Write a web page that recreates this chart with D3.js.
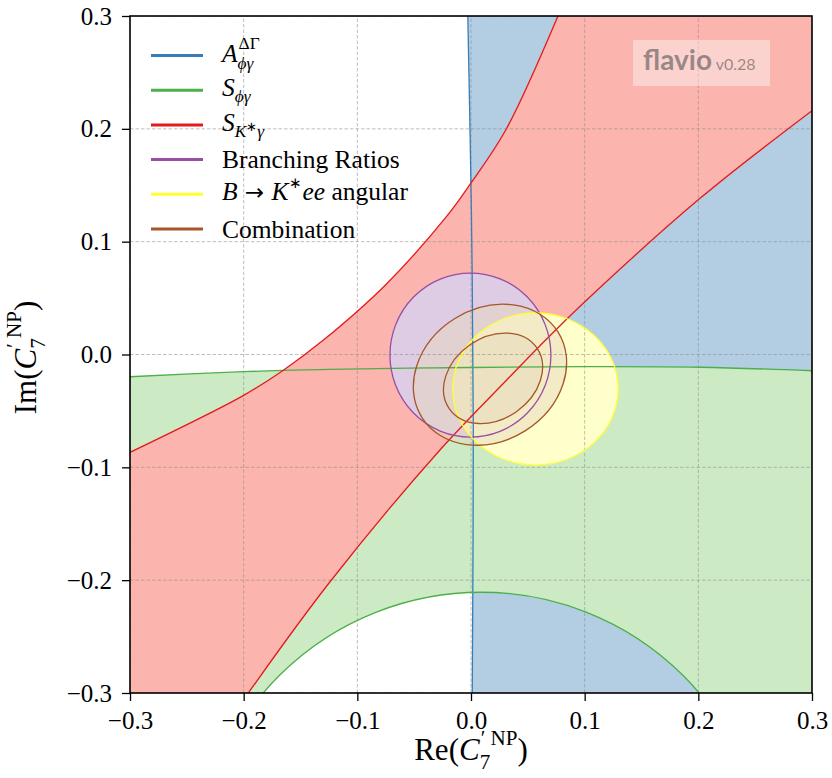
<!DOCTYPE html>
<html>
<head>
<meta charset="utf-8">
<script src="https://cdn.jsdelivr.net/npm/d3@7"></script>
<style>
body { margin: 0; background: #fff; }
svg { font-family: "Liberation Serif", serif; }
svg text { white-space: pre; }
.grid line { stroke: #8a8a8a; stroke-opacity: 0.55; stroke-width: 1; stroke-dasharray: 3.5,2; }
.axis text { font-size: 25px; font-family: "Liberation Serif", serif; fill: #000; }
.axis line { stroke: #000; stroke-width: 1.3; }
.frame { fill: none; stroke: #000; stroke-width: 1.6; }
.edge { fill: none; stroke-width: 1.3; }
</style>
</head>
<body>
<div id="chart"></div>
<script>
// ticks
const xTicks = [-0.3, -0.2, -0.1, 0.0, 0.1, 0.2, 0.3];
const yTicks = [-0.3, -0.2, -0.1, 0.0, 0.1, 0.2, 0.3];

// constraint boundaries, [Re, Im]
const blueEdge = [[-0.0028, 0.3], [0.0004, 0.1228], [0.0020, -0.0621], [0.0011, -0.3]];
const greenTop = [[-0.3, -0.0197], [-0.1997, -0.0152], [-0.124, -0.0131], [0.0, -0.0115],
                  [0.1003, -0.0108], [0.2015, -0.0113], [0.3, -0.0144]];
const greenHole = [0.009, -0.4613, 0.2506]; // cx, cy, r
const redUpper = [[-0.3, -0.0867], [-0.2, -0.0362], [-0.1657, -0.0144], [-0.1293, 0.0132],
                  [-0.0757, 0.0612], [-0.0211, 0.1228], [0.0, 0.152], [0.0308, 0.1994], [0.0765, 0.3]];
const redLower = [[-0.1959, -0.3], [-0.124, -0.2014], [-0.0273, -0.0846], [0.0314, -0.0226],
                  [0.0607, 0.0078], [0.1018, 0.0483], [0.2015, 0.1384], [0.3, 0.2161]];
// ellipses: cx, cy, a, b, angle (deg)
const brEllipse = [-0.0005, -0.0005, 0.0708, 0.0727, 0];
const bkeeEllipse = [0.0567, -0.0306, 0.0728, 0.0674, 0];
const combOuter = [0.0167, -0.0179, 0.0707, 0.0587, 32];
const combInner = [0.0194, -0.0211, 0.0469, 0.0361, 35];

const legendColors = ["#377eb8", "#4daf4a", "#e41a1c", "#984ea3", "#ffff33", "#a65628"];
const legendLabels = [
  [{t: "A", i: 1}, {sup: [{t: "ΔΓ"}], sub: [{t: "ϕγ", i: 1}]}],
  [{t: "S", i: 1}, {sub: [{t: "ϕγ", i: 1}]}],
  [{t: "S", i: 1}, {sub: [{t: "K", i: 1}, {t: "∗", up: 0.3, s: 0.75}, {t: "γ", i: 1}]}],
  [{t: "Branching Ratios"}],
  [{t: "B", i: 1}, {t: " → ", f: "DejaVu Sans", s: 0.9}, {t: "K", i: 1}, {sup: [{t: "∗", s: 0.85}]}, {t: "ee", i: 1}, {t: " angular"}],
  [{t: "Combination"}]
];

const W = 832, H = 778;
const svg = d3.select("#chart").append("svg").attr("width", W).attr("height", H);

const x = d3.scaleLinear().domain([-0.3, 0.3]).range([130, 812]);
const y = d3.scaleLinear().domain([-0.3, 0.3]).range([693, 16]);
const [x0, x1] = x.domain(), [y0, y1] = y.domain();

svg.append("clipPath").attr("id", "plotClip")
  .append("rect").attr("x", x(x0)).attr("y", y(y1))
  .attr("width", x(x1) - x(x0)).attr("height", y(y0) - y(y1));

const plot = svg.append("g").attr("clip-path", "url(#plotClip)");
const line = d3.line().x(d => x(d[0])).y(d => y(d[1])).curve(d3.curveCatmullRom);
const P = (a, b) => `L${x(a)},${y(b)}`;

function circlePath(c) {
  const cx = x(c[0]), cy = y(c[1]), rx = x(c[2]) - x(0), ry = y(0) - y(c[2]);
  return `M${cx + rx},${cy}A${rx},${ry} 0 1 0 ${cx - rx},${cy}A${rx},${ry} 0 1 0 ${cx + rx},${cy}Z`;
}
function ellipse(g, e) {
  return g.append("ellipse")
    .attr("transform", `translate(${x(e[0])},${y(e[1])}) rotate(${-e[4]})`)
    .attr("rx", x(e[2]) - x(0)).attr("ry", y(0) - y(e[3]));
}

// fills
plot.append("path").attr("fill", "#b3cde3")
  .attr("d", line(blueEdge) + P(x1, y0) + P(x1, y1) + "Z");
plot.append("path").attr("fill", "#ccebc5").attr("fill-rule", "evenodd")
  .attr("d", line(greenTop) + P(x1, -0.8) + P(x0, -0.8) + "Z" + circlePath(greenHole));
plot.append("path").attr("fill", "#fbb4ae")
  .attr("d", line(redUpper) + P(x1, y1) + line(redLower.slice().reverse()).replace(/^M/, "L") + P(x0, y0) + "Z");
ellipse(plot, brEllipse).attr("fill", "#decbe4");
ellipse(plot, bkeeEllipse).attr("fill", "#ffffcc");
ellipse(plot, combOuter).attr("fill", "#e5d8bd").attr("fill-opacity", 0.5);
ellipse(plot, combInner).attr("fill", "#e5d8bd").attr("fill-opacity", 0.5);

// grid
const grid = plot.append("g").attr("class", "grid");
grid.selectAll(".gx").data(xTicks).enter().append("line")
  .attr("x1", d => x(d)).attr("x2", d => x(d)).attr("y1", y(y0)).attr("y2", y(y1));
grid.selectAll(".gy").data(yTicks).enter().append("line")
  .attr("y1", d => y(d)).attr("y2", d => y(d)).attr("x1", x(x0)).attr("x2", x(x1));

// boundary lines
plot.append("path").attr("class", "edge").attr("stroke", legendColors[0]).attr("d", line(blueEdge));
plot.append("path").attr("class", "edge").attr("stroke", legendColors[1]).attr("d", line(greenTop));
plot.append("path").attr("class", "edge").attr("stroke", legendColors[1]).attr("d", circlePath(greenHole));
plot.append("path").attr("class", "edge").attr("stroke", legendColors[2]).attr("d", line(redUpper));
plot.append("path").attr("class", "edge").attr("stroke", legendColors[2]).attr("d", line(redLower));
ellipse(plot, brEllipse).attr("class", "edge").attr("stroke", legendColors[3]);
ellipse(plot, bkeeEllipse).attr("class", "edge").attr("stroke", legendColors[4]).attr("stroke-width", 1.6);
ellipse(plot, combOuter).attr("class", "edge").attr("stroke", legendColors[5]);
ellipse(plot, combInner).attr("class", "edge").attr("stroke", legendColors[5]);

// axes
const fmt = d3.format(".1f");
svg.append("g").attr("class", "axis").attr("transform", `translate(0,${y(y0)})`)
  .call(d3.axisBottom(x).tickValues(xTicks).tickFormat(fmt).tickSize(8).tickPadding(10))
  .call(g => g.select(".domain").remove());
svg.append("g").attr("class", "axis").attr("transform", `translate(${x(x0)},0)`)
  .call(d3.axisLeft(y).tickValues(yTicks).tickFormat(fmt).tickSize(8).tickPadding(10))
  .call(g => g.select(".domain").remove());
svg.selectAll(".axis text").attr("font-family", null).attr("font-size", null);

svg.append("rect").attr("class", "frame")
  .attr("x", x(x0)).attr("y", y(y1)).attr("width", x(x1) - x(x0)).attr("height", y(y0) - y(y1));

// math-ish text layout
function spansText(g, spans, px, py, fs) {
  const t = g.append("text").attr("x", px).attr("y", py).style("font-size", fs + "px");
  let prev = 0;
  spans.forEach(s => {
    const up = s.up || 0;
    t.append("tspan").attr("dy", (prev - up) * fs)
      .style("font-style", s.i ? "italic" : "normal")
      .style("font-size", s.s ? fs * s.s + "px" : null)
      .style("font-family", s.f || null)
      .text(s.t);
    prev = up;
  });
  return t.node().getComputedTextLength();
}
function drawMath(g, items, fs) {
  let cx = 0;
  items.forEach(it => {
    if (it.sup || it.sub) {
      let w = 0;
      if (it.sup) w = Math.max(w, spansText(g, it.sup, cx + 1, -0.5 * fs, fs * 0.68));
      if (it.sub) w = Math.max(w, spansText(g, it.sub, cx, (it.sup ? 0.3 : 0.22) * fs, fs * 0.68));
      cx += w + 1;
    } else {
      cx += spansText(g, [it], cx, 0, fs);
    }
  });
  return cx;
}

// legend
const legend = svg.append("g");
legendLabels.forEach((lab, i) => {
  const ly = 55.5 + i * 34.7;
  legend.append("line").attr("x1", 151).attr("x2", 203).attr("y1", ly).attr("y2", ly)
    .attr("stroke", legendColors[i]).attr("stroke-width", 3);
  const isMath = lab.length > 1;
  drawMath(legend.append("g").attr("transform", `translate(222,${ly + (isMath ? 6 : 8.5)})`), lab, 25.5);
});

// axis labels
const xl = svg.append("g");
const xw = drawMath(xl, [{t: "Re("}, {t: "C", i: 1}, {sup: [{t: "′ NP"}], sub: [{t: "7"}]}, {t: ")"}], 31);
xl.attr("transform", `translate(${(x(x0) + x(x1)) / 2 - xw / 2},760)`);
const yl = svg.append("g").attr("transform", `translate(36,${(y(y0) + y(y1)) / 2 + 3}) rotate(-90)`);
const ylg = yl.append("g");
const yw = drawMath(ylg, [{t: "Im("}, {t: "C", i: 1}, {sup: [{t: "′ NP"}], sub: [{t: "7"}]}, {t: ")"}], 31);
ylg.attr("transform", `translate(${-yw / 2},0)`);

// flavio watermark
const wm = svg.append("g");
wm.append("rect").attr("x", 633).attr("y", 40).attr("width", 137).attr("height", 46)
  .attr("fill", "#fff").attr("fill-opacity", 0.4);
const wt = wm.append("text").attr("x", 643).attr("y", 70).attr("fill", "#555").attr("fill-opacity", 0.6)
  .style("font-family", "Lato, 'Open Sans', sans-serif");
wt.append("tspan").style("font-weight", "bold").style("font-size", "28px").text("flavio");
wt.append("tspan").style("font-size", "16px").text(" v0.28");
</script>
</body>
</html>
